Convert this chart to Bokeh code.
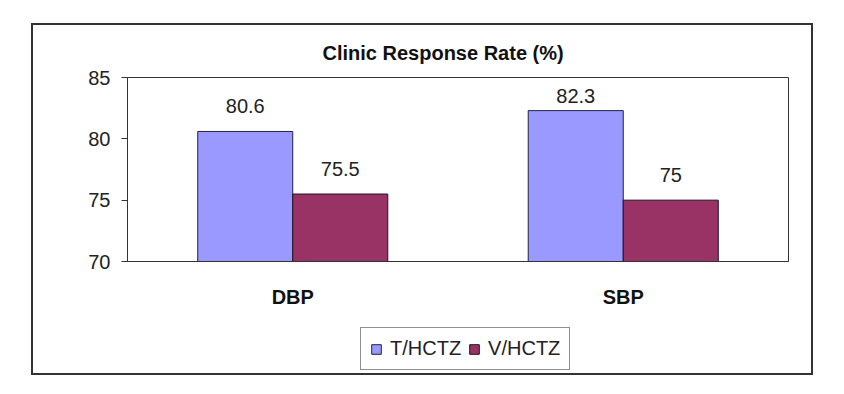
import numpy as np
from bokeh.plotting import figure
from bokeh.layouts import column
from bokeh.models import (FactorRange, Range1d, FixedTicker, Legend, LegendItem, Title,
                          ColumnDataSource)
from bokeh.transform import dodge
from bokeh.embed import file_html
from bokeh.resources import INLINE
from bokeh.core.properties import value

# ---- data ----
categories = ["DBP", "SBP"]
series_names = ["T/HCTZ", "V/HCTZ"]
t_hctz = [80.6, 82.3]
v_hctz = [75.5, 75.0]
y_ticks = [70, 75, 80, 85]
title_text = "Clinic Response Rate (%)"

# ---- style ----
FONT = "Liberation Sans"
colors = ["#9999FF", "#993366"]
edges = ["#222244", "#221122"]
W = 778
H_MAIN, H_LEG = 296, 52
ML, MR, MT, FH = 94, 23, 52, 184
MB = H_MAIN - MT - FH
ymin, ymax = y_ticks[0], y_ticks[-1]
ppu = FH / (ymax - ymin)

p = figure(width=W, height=H_MAIN,
           x_range=FactorRange(factors=categories, range_padding=0),
           y_range=Range1d(ymin, ymax),
           output_backend="svg", toolbar_location=None,
           min_border_left=ML, min_border_right=MR,
           min_border_top=MT, min_border_bottom=MB)
p.background_fill_color = "white"
p.border_fill_color = "white"
p.outline_line_color = "#333333"
p.outline_line_width = 1
p.xgrid.visible = False
p.ygrid.visible = False

bw = 0.2875
off = bw / 2
src = ColumnDataSource(dict(cat=categories, t=t_hctz, v=v_hctz,
                            t_lbl=[f"{x:g}" for x in t_hctz],
                            v_lbl=[f"{x:g}" for x in v_hctz],
                            t_y=list(np.minimum(np.array(t_hctz) + 25 / ppu, ymax - 18 / ppu)),
                            v_y=list(np.minimum(np.array(v_hctz) + 25 / ppu, ymax - 18 / ppu))))

p.vbar(x=dodge("cat", -off, range=p.x_range), top="t", bottom=ymin, width=bw, source=src,
       fill_color=colors[0], line_color=edges[0], line_width=1)
p.vbar(x=dodge("cat", off, range=p.x_range), top="v", bottom=ymin, width=bw, source=src,
       fill_color=colors[1], line_color=edges[1], line_width=1)

p.text(x=dodge("cat", -off, range=p.x_range), y="t_y", text="t_lbl", source=src,
       text_font=value(FONT), text_font_size="20px", text_color="#222222",
       text_align="center", text_baseline="middle")
p.text(x=dodge("cat", off, range=p.x_range), y="v_y", text="v_lbl", source=src,
       text_font=value(FONT), text_font_size="20px", text_color="#222222",
       text_align="center", text_baseline="middle")

# axes
yax = p.yaxis[0]
yax.ticker = FixedTicker(ticks=y_ticks)
yax.major_label_text_font = FONT
yax.major_label_text_font_size = "20px"
yax.major_label_text_color = "#222222"
yax.axis_line_color = "#333333"
yax.major_tick_line_color = "#333333"
yax.major_tick_in = 0
yax.major_tick_out = 6
yax.minor_tick_line_color = None
yax.major_label_standoff = 11

xax = p.xaxis[0]
xax.axis_line_color = "#333333"
xax.major_tick_line_color = None
xax.major_tick_in = 0
xax.major_tick_out = 0
xax.minor_tick_line_color = None
xax.major_label_text_font = FONT
xax.major_label_text_font_style = "bold"
xax.major_label_text_font_size = "20px"
xax.major_label_text_color = "#111111"
xax.major_label_standoff = 24

# title
p.add_layout(Title(text=title_text, align="left", offset=195, standoff=28,
                   text_font=FONT, text_font_style="bold", text_font_size="20px",
                   text_color="#111111"), "above")

# legend strip (separate small figure under the chart, frames aligned by the column)
pl = figure(width=W, height=H_LEG, output_backend="svg", toolbar_location=None,
            x_range=FactorRange(factors=categories, range_padding=0),
            y_range=Range1d(ymin, ymax),
            x_axis_location=None, y_axis_location=None,
            min_border=0, min_border_left=0, min_border_right=0,
            min_border_top=0, min_border_bottom=0)
pl.outline_line_color = None
pl.background_fill_color = "white"
pl.border_fill_color = "white"
pl.xgrid.visible = False
pl.ygrid.visible = False
lr1 = pl.vbar(x=dodge("cat", -off, range=pl.x_range), top="t", bottom=ymin, width=bw,
              source=src, fill_color=colors[0], line_color=edges[0], line_width=1,
              visible=False)
lr2 = pl.vbar(x=dodge("cat", off, range=pl.x_range), top="v", bottom=ymin, width=bw,
              source=src, fill_color=colors[1], line_color=edges[1], line_width=1,
              visible=False)
legend = Legend(items=[LegendItem(label=series_names[0], renderers=[lr1]),
                       LegendItem(label=series_names[1], renderers=[lr2])],
                location=(233, 3), orientation="horizontal",
                glyph_width=12, glyph_height=12, label_standoff=8, spacing=7,
                padding=9, margin=0,
                inactive_fill_alpha=0,
                label_text_font=FONT, label_text_font_size="20px", label_text_color="#222222",
                border_line_color="#222222", border_line_width=1,
                background_fill_color="white", background_fill_alpha=1)
pl.add_layout(legend, "center")

root = column(p, pl, spacing=0,
              styles={"border": "2px solid #333333", "margin-left": "31px",
                      "margin-top": "23px", "background-color": "white"})

open("out.html", "w").write(file_html(root, INLINE))
